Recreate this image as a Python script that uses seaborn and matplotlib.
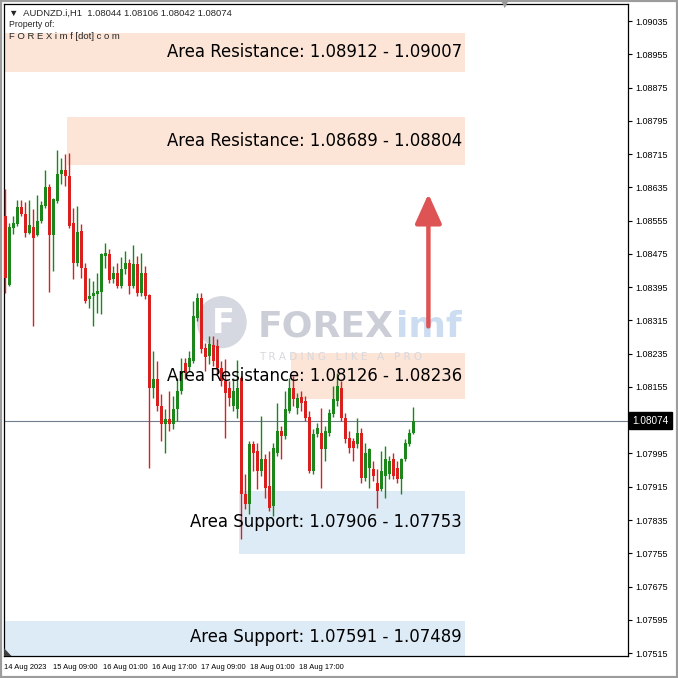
import numpy as np
import pandas as pd
import matplotlib
matplotlib.use("Agg")
import matplotlib.pyplot as plt
import seaborn as sns
from matplotlib.patches import Rectangle, Circle, Polygon

# AUDNZD H1 candles (oldest first)
opens = [1.08566, 1.08400, 1.08537, 1.08547, 1.08588, 1.08571, 1.08525, 1.08540, 1.08520, 1.08554,
         1.08590, 1.08636, 1.08520, 1.08602, 1.08667, 1.08677, 1.08662, 1.08549, 1.08453, 1.08530,
         1.08441, 1.08366, 1.08374, 1.08378, 1.08383, 1.08470, 1.08475, 1.08415, 1.08429, 1.08398,
         1.08439, 1.08453, 1.08398, 1.08451, 1.08381, 1.08429, 1.08376, 1.08152, 1.08174, 1.08109,
         1.08066, 1.08078, 1.08066, 1.08102, 1.08145, 1.08212, 1.08203, 1.08217, 1.08321, 1.08369,
         1.08249, 1.08229, 1.08256, 1.08253, 1.08201, 1.08169, 1.08152, 1.08109, 1.08102, 1.08176,
         1.07897, 1.07873, 1.08018, 1.08001, 1.07953, 1.07982, 1.07917, 1.07869, 1.07996, 1.08049,
         1.08037, 1.08097, 1.08152, 1.08104, 1.08131, 1.08121, 1.08083, 1.07953, 1.08042, 1.08044,
         1.08006, 1.08044, 1.08090, 1.08121, 1.08152, 1.08080, 1.08032, 1.08025, 1.08018, 1.08044,
         1.07936, 1.07960, 1.07958, 1.07924, 1.07910, 1.07941, 1.07946, 1.07982, 1.07960, 1.07934,
         1.07982, 1.08018, 1.08044]
highs = [1.08631, 1.08549, 1.08566, 1.08605, 1.08605, 1.08600, 1.08605, 1.08583, 1.08617, 1.08602,
         1.08677, 1.08643, 1.08609, 1.08725, 1.08706, 1.08715, 1.08718, 1.08585, 1.08590, 1.08547,
         1.08453, 1.08417, 1.08410, 1.08429, 1.08477, 1.08501, 1.08487, 1.08446, 1.08453, 1.08467,
         1.08482, 1.08463, 1.08496, 1.08470, 1.08477, 1.08446, 1.08378, 1.08241, 1.08217, 1.08138,
         1.08102, 1.08145, 1.08133, 1.08176, 1.08225, 1.08225, 1.08241, 1.08362, 1.08381, 1.08381,
         1.08261, 1.08277, 1.08277, 1.08270, 1.08217, 1.08222, 1.08169, 1.08176, 1.08220, 1.08181,
         1.07946, 1.08025, 1.08025, 1.08020, 1.08085, 1.07994, 1.08001, 1.08020, 1.08116, 1.08061,
         1.08145, 1.08176, 1.08181, 1.08140, 1.08145, 1.08133, 1.08097, 1.08054, 1.08068, 1.08104,
         1.08061, 1.08102, 1.08157, 1.08188, 1.08169, 1.08092, 1.08049, 1.08032, 1.08080, 1.08056,
         1.08020, 1.08008, 1.07977, 1.07958, 1.08001, 1.08013, 1.07989, 1.07996, 1.07977, 1.07984,
         1.08030, 1.08054, 1.08106]
lows = [1.08381, 1.08398, 1.08523, 1.08542, 1.08566, 1.08516, 1.08523, 1.08302, 1.08518, 1.08549,
        1.08585, 1.08383, 1.08434, 1.08597, 1.08643, 1.08638, 1.08537, 1.08415, 1.08446, 1.08417,
        1.08357, 1.08345, 1.08302, 1.08333, 1.08330, 1.08441, 1.08405, 1.08405, 1.08393, 1.08393,
        1.08427, 1.08378, 1.08393, 1.08374, 1.08374, 1.08366, 1.07960, 1.08128, 1.08097, 1.08025,
        1.07996, 1.08049, 1.08054, 1.08073, 1.08138, 1.08174, 1.08193, 1.08212, 1.08313, 1.08237,
        1.08193, 1.08210, 1.08205, 1.08188, 1.08157, 1.08032, 1.08109, 1.08097, 1.08080, 1.07789,
        1.07861, 1.07849, 1.07953, 1.07910, 1.07941, 1.07888, 1.07857, 1.07845, 1.07989, 1.07982,
        1.08030, 1.08092, 1.08109, 1.08090, 1.08097, 1.08073, 1.07948, 1.07946, 1.08035, 1.07912,
        1.07977, 1.08037, 1.08083, 1.08109, 1.08073, 1.08020, 1.07996, 1.07977, 1.08008, 1.07924,
        1.07929, 1.07912, 1.07929, 1.07864, 1.07905, 1.07888, 1.07934, 1.07934, 1.07924, 1.07897,
        1.07977, 1.08013, 1.08042]
closes = [1.08417, 1.08540, 1.08549, 1.08588, 1.08571, 1.08525, 1.08544, 1.08513, 1.08554, 1.08593,
          1.08636, 1.08520, 1.08607, 1.08667, 1.08677, 1.08662, 1.08542, 1.08453, 1.08528, 1.08441,
          1.08362, 1.08374, 1.08381, 1.08386, 1.08475, 1.08477, 1.08412, 1.08429, 1.08398, 1.08439,
          1.08453, 1.08398, 1.08451, 1.08381, 1.08429, 1.08374, 1.08152, 1.08174, 1.08109, 1.08066,
          1.08078, 1.08066, 1.08102, 1.08145, 1.08193, 1.08188, 1.08225, 1.08326, 1.08369, 1.08246,
          1.08227, 1.08258, 1.08217, 1.08201, 1.08169, 1.08140, 1.08128, 1.08145, 1.08152, 1.07897,
          1.07873, 1.08018, 1.07996, 1.07953, 1.07982, 1.07912, 1.07864, 1.08008, 1.08049, 1.08037,
          1.08102, 1.08152, 1.08126, 1.08128, 1.08116, 1.08080, 1.07953, 1.08042, 1.08056, 1.08006,
          1.08049, 1.08092, 1.08126, 1.08157, 1.08080, 1.08030, 1.08008, 1.08008, 1.08044, 1.07936,
          1.07996, 1.08006, 1.07941, 1.07905, 1.07953, 1.07982, 1.07977, 1.07941, 1.07934, 1.07982,
          1.08020, 1.08044, 1.08074]

# zones
zone_kind = ["Resistance", "Resistance", "Resistance", "Support", "Support"]
zone_low = [1.08912, 1.08689, 1.08126, 1.07753, 1.07489]
zone_high = [1.09007, 1.08804, 1.08236, 1.07906, 1.07591]
zone_text = ["Area Resistance: 1.08912 - 1.09007",
             "Area Resistance: 1.08689 - 1.08804",
             "Area Resistance: 1.08126 - 1.08236",
             "Area Support: 1.07906 - 1.07753",
             "Area Support: 1.07591 - 1.07489"]
zone_start = [-1, 16, 72, 59, -1]
zone_end = 115

x_labels = ["14 Aug 2023", "15 Aug 09:00", "16 Aug 01:00", "16 Aug 17:00",
            "17 Aug 09:00", "18 Aug 01:00", "18 Aug 17:00"]
last_price = 1.08074
target_price = 1.08626
arrow_from = 1.08294

df = pd.DataFrame({"open": opens, "high": highs, "low": lows, "close": closes})
df["bar"] = np.arange(len(df))
df["up"] = df["close"] >= df["open"]

sns.set_theme(style="white")
plt.rcParams["font.family"] = ["DejaVu Sans"]

fig = plt.figure(figsize=(6.78, 6.78), dpi=100)
ax = fig.add_axes([4 / 678, 22 / 678, 624 / 678, 652 / 678])

GREEN = "#1c861c"
RED = "#d9201f"
RES_FILL = "#fce4d6"
SUP_FILL = "#ddebf7"

# zones
for kind, lo, hi, st in zip(zone_kind, zone_low, zone_high, zone_start):
    ax.add_patch(Rectangle((st - 0.5, lo), zone_end - st + 0.5, hi - lo,
                           facecolor=RES_FILL if kind == "Resistance" else SUP_FILL,
                           edgecolor="none", zorder=1))

# watermark
ax.add_patch(Circle((0.349, 0.512), 0.04, transform=ax.transAxes,
                    facecolor="#c9ccd7", edgecolor="none", alpha=0.75, zorder=1.5))
ax.text(0.351, 0.510, "F", transform=ax.transAxes, fontsize=24, fontweight="bold",
        color="white", ha="center", va="center", zorder=1.6)
ax.text(0.406, 0.505, "FOREX", transform=ax.transAxes, fontsize=26, fontweight="bold",
        color="#c2c5d1", alpha=0.85, ha="left", va="center", zorder=1.6)
ax.text(0.628, 0.505, "imf", transform=ax.transAxes, fontsize=26, fontweight="bold",
        color="#c3d8ef", alpha=0.85, ha="left", va="center", zorder=1.6)
ax.text(0.408, 0.459, "T R A D I N G   L I K E   A   P R O", transform=ax.transAxes,
        fontsize=7.5, color="#d6d8df", ha="left", va="center", zorder=1.6)

# candles
for up, grp in df.groupby("up"):
    col = GREEN if up else RED
    ax.vlines(grp["bar"], grp["low"], grp["high"], color=col, lw=1.0, zorder=3)
    bottom = np.minimum(grp["open"], grp["close"])
    height = np.maximum(np.abs(grp["close"] - grp["open"]), 0.00002)
    ax.bar(grp["bar"], height, bottom=bottom, width=0.7, color=col,
           edgecolor="none", zorder=3)

# current price line
ax.axhline(last_price, color="#6f7f8f", lw=0.8, zorder=2)

# zone labels
for txt, lo, hi in zip(zone_text, zone_low, zone_high):
    ymid = (lo + hi) / 2
    if lo < 1.0755:
        ymid = 1.07553
    ax.text(114.2, ymid, txt, fontsize=11.9, color="black", ha="right",
            va="center", zorder=5)

# arrow
ax.annotate("", xy=(105.8, target_price), xytext=(105.8, arrow_from),
            arrowprops=dict(arrowstyle="-|>,head_width=0.45,head_length=1.0",
                            color="#de5454", lw=3.2, mutation_scale=18),
            zorder=4)

# axes
ax.set_xlim(-0.3, 155.7)
ax.set_ylim(1.07508, 1.09076)
ax.yaxis.tick_right()
yt = np.arange(1.07515, 1.09040, 0.0008)
ax.set_yticks(yt)
# the tick under the last-price tag is hidden by it
ax.set_yticklabels(["" if abs(v - last_price) < 0.0002 else f"{v:.5f}" for v in yt],
                   fontfamily="Liberation Sans", fontsize=6.5)
xt = [-0.2 + 12.27 * k for k in range(len(x_labels))]
ax.set_xticks(xt)
ax.set_xticklabels(x_labels, fontfamily="Liberation Sans", fontsize=5.4)
for lab in ax.get_xticklabels():
    lab.set_ha("left")
ax.tick_params(axis="both", direction="out", length=3, width=0.8, color="black",
               labelcolor="black", pad=2)
ax.tick_params(axis="x", pad=3)
for sp in ax.spines.values():
    sp.set_color("black")
    sp.set_linewidth(0.9)
ax.grid(False)

# last price tag
ax.text(1.007, last_price, f"{last_price:.5f}", transform=ax.get_yaxis_transform(),
        fontsize=7.2, family="Liberation Sans", color="white", va="center", ha="left",
        zorder=6, bbox=dict(boxstyle="square,pad=0.32", facecolor="black", edgecolor="black"),
        clip_on=False)

# header texts
ax.text(0.008, 0.986, "\u25BC  AUDNZD.i,H1  1.08044 1.08106 1.08042 1.08074",
        transform=ax.transAxes, fontsize=6.8, family="Liberation Sans",
        va="center", ha="left", zorder=6)
ax.text(0.008, 0.968, "Property of:", transform=ax.transAxes, fontsize=6.3,
        family="Liberation Sans", va="center", ha="left", zorder=6)
ax.text(0.008, 0.950, "F O R E X i m f [dot] c o m", transform=ax.transAxes,
        fontsize=6.8, family="Liberation Sans", va="center", ha="left", zorder=6)

# small corner marker bottom-left
ax.add_patch(Polygon([(0, 0), (0.012, 0), (0, 0.012)], closed=True, transform=ax.transAxes,
                     facecolor="#404040", edgecolor="none", zorder=6))

# shift marker and window frame
fig.text(505 / 678, 1 - 4 / 678, "\u25BC", fontsize=7, color="#9a9a9a",
         ha="center", va="center")
fig.patches.append(Rectangle((0, 0), 1, 1, transform=fig.transFigure, fill=False,
                             edgecolor="#9c9c9c", lw=3))

fig.savefig("out.png", dpi=100, facecolor="white")
